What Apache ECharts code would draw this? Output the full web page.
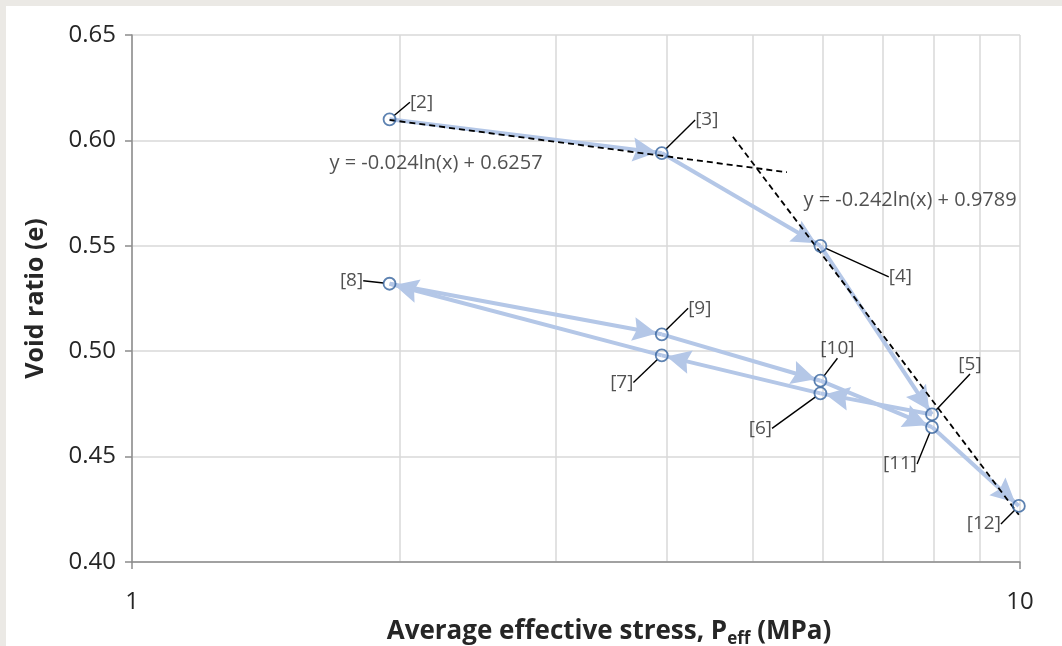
<!DOCTYPE html>
<html>
<head>
<meta charset="utf-8">
<script src="https://cdn.jsdelivr.net/npm/echarts@6/dist/echarts.min.js"></script>
<style>
  html, body { margin: 0; padding: 0; background: #ebe9e5; width: 1062px; height: 646px; overflow: hidden; }
  #c { position: absolute; left: 6px; top: 6px; width: 1056px; height: 640px; background: #ffffff; }
</style>
</head>
<body>
<div id="c"></div>
<script>
// ---- data ----
const pointNames = ['[2]', '[3]', '[4]', '[5]', '[6]', '[7]', '[8]', '[9]', '[10]', '[11]', '[12]'];
const stress     = [1.95, 3.95, 5.96, 7.96, 5.96, 3.95, 1.95, 3.95, 5.96, 7.96, 9.97];
const voidRatio  = [0.610, 0.594, 0.550, 0.470, 0.480, 0.498, 0.532, 0.508, 0.486, 0.464, 0.4266];

// trend lines (straight on a log axis): endpoints
const trend1X = [1.95, 5.465];
const trend1Y = [0.6097, 0.5849];
const trend2X = [4.75, 9.97];
const trend2Y = [0.6017, 0.4224];
const trend1Eq = 'y = -0.024ln(x) + 0.6257';
const trend2Eq = 'y = -0.242ln(x) + 0.9789';

// axis ticks
const yTicks = [0.40, 0.45, 0.50, 0.55, 0.60, 0.65];
const minorX = [2, 3, 4, 5, 6, 7, 8, 9];

// ---- layout (label offsets in px, not data) ----
const labelOffsets = [
  [32, -17], [45, -33], [80, 31], [38, -50], [-60, 35], [-40, 27],
  [-38, -3], [38, -26], [17, -32], [-32, 37], [-35, 18]
];

const FONT = '"Open Sans", "Liberation Sans", sans-serif';
const chart = echarts.init(document.getElementById('c'), null, { renderer: 'canvas', width: 1056, height: 640 });

const pts = stress.map((x, i) => [x, voidRatio[i]]);
const segs = [];
for (let i = 0; i < pts.length - 1; i++) segs.push([{ coord: pts[i] }, { coord: pts[i + 1] }]);

const ARROW = 'path://M10,0 L20,20 L10,17 L0,20 Z';

const option = {
  animation: false,
  backgroundColor: '#ffffff',
  grid: { left: 126, top: 29, right: 42, bottom: 84, containLabel: false, outerBoundsMode: 'none' },
  xAxis: {
    type: 'log', logBase: 10, min: 1, max: 10,
    axisLine: { show: true, onZero: false, lineStyle: { color: '#8c8c8c', width: 1.5 } },
    axisTick: { show: true, inside: false, length: 7, lineStyle: { color: '#8c8c8c', width: 1.5 } },
    splitLine: { show: true, lineStyle: { color: '#d9d9d9', width: 1.5 } },
    minorTick: { show: false }, minorSplitLine: { show: false },
    axisLabel: { fontFamily: FONT, fontSize: 24, color: '#262626', margin: 28 },
    name: '{a|Average effective stress, P}{s|eff}{a| (MPa)}',
    nameLocation: 'middle', nameGap: 40,
    nameTextStyle: {
      padding: [0, 0, 0, 66],
      rich: {
        a: { fontFamily: FONT, fontSize: 26, fontWeight: 'bold', color: '#262626' },
        s: { fontFamily: FONT, fontSize: 17, fontWeight: 'bold', color: '#262626', verticalAlign: 'bottom', padding: [14, 0, 0, 0] }
      }
    }
  },
  yAxis: {
    type: 'value', min: 0.40, max: 0.65, interval: 0.05,
    axisLine: { show: true, lineStyle: { color: '#8c8c8c', width: 1.5 } },
    axisTick: { show: true, inside: false, length: 7, lineStyle: { color: '#8c8c8c', width: 1.5 } },
    splitLine: { show: true, lineStyle: { color: '#d9d9d9', width: 1.5 } },
    axisLabel: { fontFamily: FONT, fontSize: 24, color: '#262626', margin: 16,
      formatter: v => { const t = yTicks.find(k => Math.abs(k - v) < 1e-6); return (t !== undefined ? t : v).toFixed(2); } },
    name: 'Void ratio (e)', nameLocation: 'middle', nameGap: 84, nameRotate: 90,
    nameTextStyle: { fontFamily: FONT, fontSize: 25, fontWeight: 'bold', color: '#262626' }
  },
  series: [
    { // minor vertical grid lines at 2..9
      type: 'line', data: [], z: 0, silent: true,
      markLine: {
        silent: true, symbol: ['none', 'none'], animation: false, z: 0,
        label: { show: false },
        lineStyle: { color: '#d9d9d9', width: 1.5, type: 'solid' },
        data: minorX.map(v => ({ xAxis: v }))
      }
    },
    { // arrows between successive stages
      type: 'line', data: [], z: 2, silent: true,
      markLine: {
        silent: true, animation: false, z: 2,
        symbol: ['none', ARROW], symbolSize: [24, 24],
        symbolOffset: [[0, 0], [0, 17]],
        label: { show: false },
        lineStyle: { color: '#b4c7e7', width: 4, type: 'solid', opacity: 1 },
        itemStyle: { color: '#b4c7e7' },
        emphasis: { disabled: true },
        data: segs
      }
    },
    { type: 'line', z: 3, silent: true, showSymbol: false, symbol: 'none',
      data: trend1X.map((x, i) => [x, trend1Y[i]]),
      lineStyle: { color: '#000', width: 1.8, type: [6, 4] } },
    { type: 'line', z: 3, silent: true, showSymbol: false, symbol: 'none',
      data: trend2X.map((x, i) => [x, trend2Y[i]]),
      lineStyle: { color: '#000', width: 1.8, type: [6, 4] } },
    { // equation labels
      type: 'scatter', z: 5, silent: true, symbol: 'circle', symbolSize: 1,
      itemStyle: { color: 'rgba(0,0,0,0)' },
      label: { show: true, position: 'inside', fontFamily: FONT, fontSize: 20, color: '#262626',
        formatter: p => p.data.eq },
      data: [
        { value: [2.2, 0.5893], eq: trend1Eq },
        { value: [7.52, 0.5717], eq: trend2Eq }
      ]
    },
    { // stage markers with callout labels
      type: 'scatter', z: 6, symbol: 'circle', symbolSize: 12,
      itemStyle: { color: 'rgba(255,255,255,0)', borderColor: '#35639e', borderWidth: 1.8 },
      label: { show: true, position: 'inside', fontFamily: FONT, fontSize: 19, color: '#262626',
        formatter: p => pointNames[p.dataIndex] },
      labelLine: { show: true, lineStyle: { color: '#000', width: 1.4 } },
      labelLayout: p => ({ dx: labelOffsets[p.dataIndex][0], dy: labelOffsets[p.dataIndex][1] }),
      data: pts
    }
  ]
};
chart.setOption(option);
</script>
</body>
</html>
